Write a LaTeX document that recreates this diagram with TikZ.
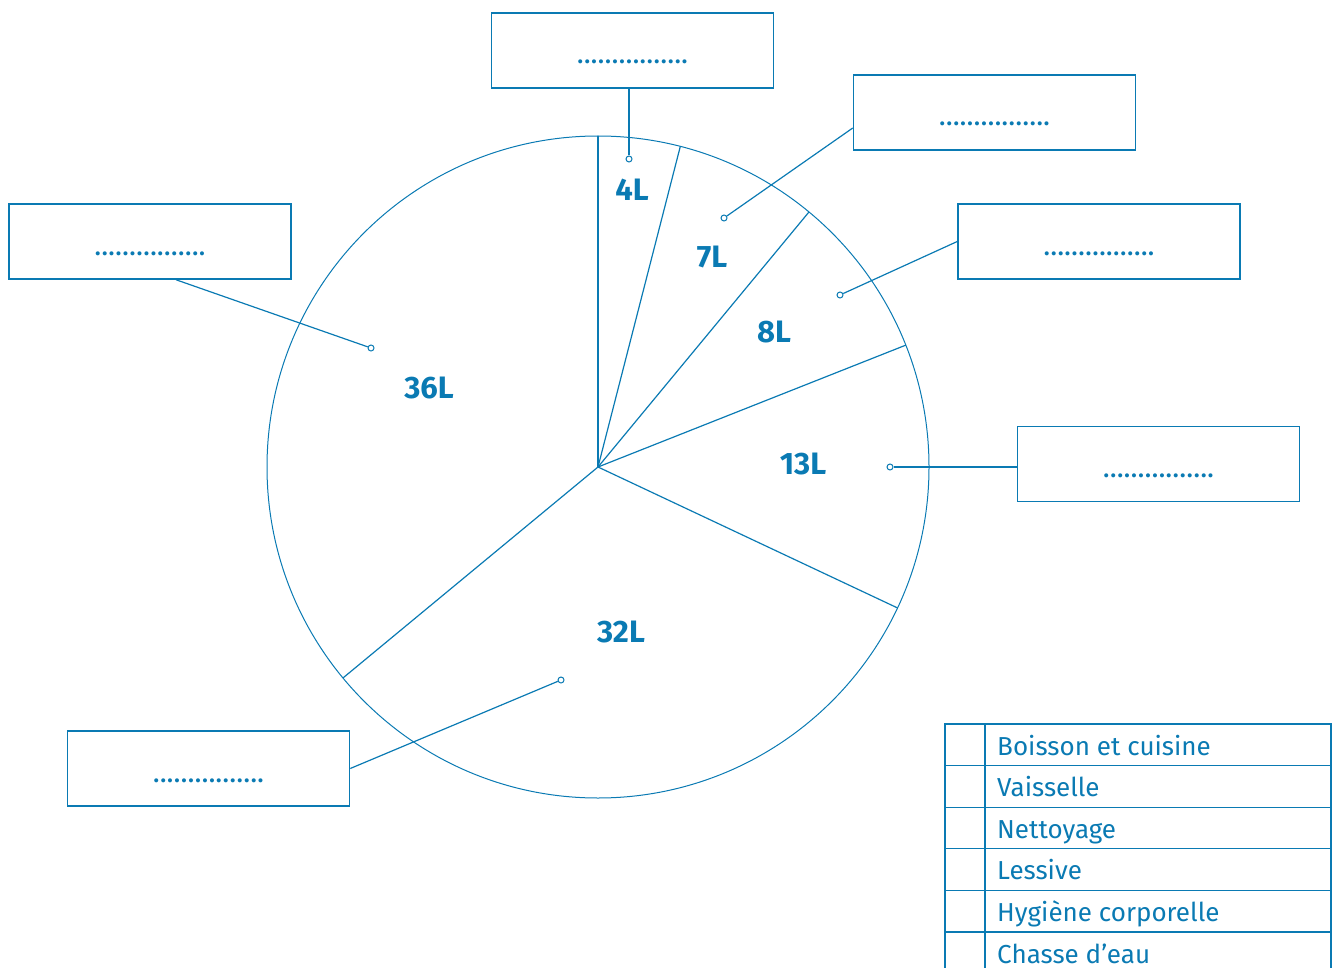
\documentclass[tikz,border=0pt]{standalone}
\usepackage{fontspec}
\setmainfont{Fira Sans}
\definecolor{blu}{HTML}{0A7AB3}
\begin{document}
\begin{tikzpicture}[x=1pt,y=-1pt,
  ln/.style={draw=blu,line width=1.2pt},
  box/.style={draw=blu,line width=1.5pt,minimum width=282pt,minimum height=75pt,inner sep=0pt,
    text=blu,font=\fontsize{29}{29}\selectfont,text height=27pt,text depth=0pt},
  dotc/.style={circle,draw=blu,fill=white,inner sep=0pt,minimum size=6pt,line width=1pt},
  val/.style={text=blu,font=\fontsize{31}{31}\selectfont\bfseries,inner sep=0pt},
  legtxt/.style={text=blu,font=\fontsize{26}{26}\selectfont,inner sep=0pt,anchor=base west}]
\useasboundingbox (0,0) rectangle (1335,968);
\clip (0,0) rectangle (1335,968);
% pie
\coordinate (c) at (598,467);
\draw[blu,line width=1pt] (c) circle[radius=331pt];
\foreach \a in {90,75.6,50.4,21.6,-25.2,-140.4}
  \draw[ln] (c) -- ++(\a:331pt);
% values
\node[val] (v4) at (632,190) {4L};
\node[val] (v7) at (712,257) {7L};
\node[val] (v8) at (774,332) {8L};
\node[val] (v13) at (803,464) {13L};
\node[val] (v32) at (621,632) {32L};
\node[val] (v36) at (429,388) {36L};
% boxes
\node[box] (b1) at (632.5,50.5) {................};
\node[box] (b2) at (994.5,112.5) {................};
\node[box] (b3) at (1099,241.5) {................};
\node[box] (b4) at (1158.5,464) {................};
\node[box] (b5) at (208.5,768.5) {................};
\node[box] (b6) at (150,241.5) {................};
% dots
\node[dotc] (d1) at (629,159) {};
\node[dotc] (d2) at (724,218) {};
\node[dotc] (d3) at (840,295) {};
\node[dotc] (d4) at (890,467) {};
\node[dotc] (d5) at (561,680) {};
\node[dotc] (d6) at (371,348) {};
% connectors
\draw[ln] (d1) -- (d1 |- b1.south);
\draw[ln] (d2) -- ([yshift=-15.5pt]b2.west);
\draw[ln] (d3) -- (b3.west);
\draw[ln] (d4) -- (d4 -| b4.west);
\draw[ln] (d5) -- (b5.east);
\draw[ln] (d6) -- ([xshift=26pt]b6.south);
% legend
\draw[ln] (945,724) rectangle (1331,1000);
\draw[ln] (985,724) -- (985,1000);
\foreach \y in {765.6,807.2,848.8,890.4,932}
  \draw[ln] (945,\y) -- (1331,\y);
\node[legtxt] (l1) at (997,755) {Boisson et cuisine};
\node[legtxt] (l2) at (997,796.6) {Vaisselle};
\node[legtxt] (l3) at (997,838.2) {Nettoyage};
\node[legtxt] (l4) at (997,879.8) {Lessive};
\node[legtxt] (l5) at (997,921.4) {Hygiène corporelle};
\node[legtxt] (l6) at (997,963) {Chasse d’eau};
\end{tikzpicture}
\end{document}
